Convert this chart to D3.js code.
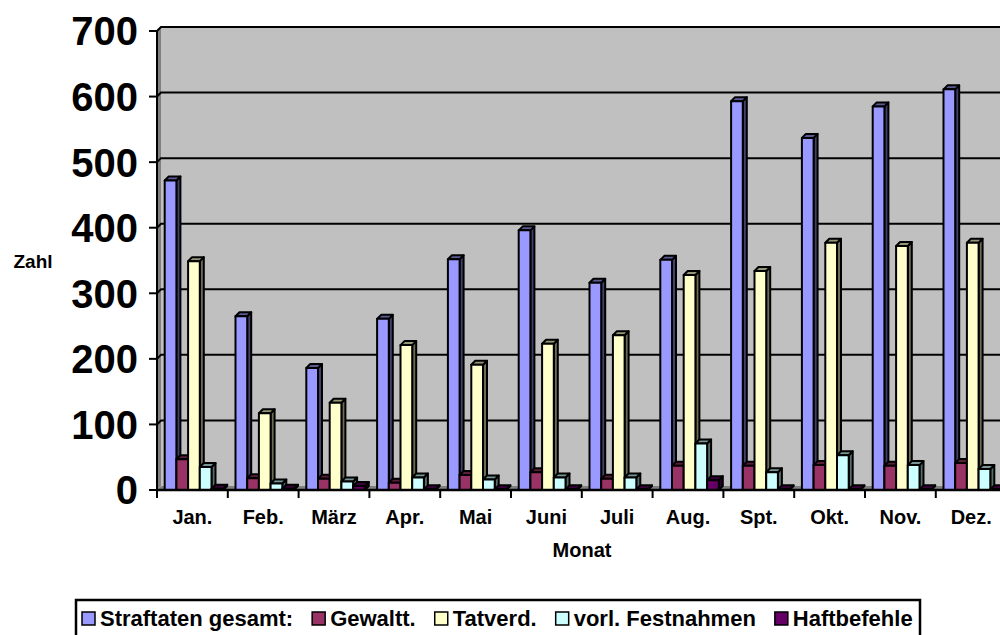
<!DOCTYPE html>
<html>
<head>
<meta charset="utf-8">
<script src="https://cdn.jsdelivr.net/npm/d3@7"></script>
<style>
  body { margin: 0; background: #fff; }
  svg { display: block; font-family: "Liberation Sans", Arial, sans-serif; font-weight: bold; }
</style>
</head>
<body>
<svg id="chart" width="1000" height="635"></svg>
<script>
const months = ["Jan.", "Feb.", "März", "Apr.", "Mai", "Juni", "Juli", "Aug.", "Spt.", "Okt.", "Nov.", "Dez."];
const seriesNames = ["Straftaten gesamt:", "Gewaltt.", "Tatverd.", "vorl. Festnahmen", "Haftbefehle"];
const straftaten = [472, 265, 186, 261, 352, 396, 316, 351, 593, 537, 585, 611];
const gewalt = [47, 18, 17, 11, 23, 27, 17, 37, 37, 38, 37, 41];
const tatverd = [349, 117, 133, 221, 191, 223, 236, 328, 334, 377, 372, 377];
const festnahmen = [35, 10, 13, 19, 16, 19, 19, 71, 27, 53, 38, 32];
const haftbefehle = [2, 2, 6, 1, 1, 1, 1, 15, 1, 1, 1, 1];
const yTicks = [0, 100, 200, 300, 400, 500, 600, 700];
const colours = ["#9999FF", "#993366", "#FFFFCC", "#CCFFFF", "#660066"];

const allSeries = [straftaten, gewalt, tatverd, festnahmen, haftbefehle];

const svg = d3.select("#chart");
const axisX = 157, baseY = 490, topY = 31;
const catW = 70.8;
const dx = 4, dy = 4; // depth offset

const x0 = d3.scaleBand().domain(months).range([axisX, axisX + catW * 12]);
const x1 = d3.scaleBand().domain(d3.range(5)).range([7.7, 7.7 + 58.5]);
const y = d3.scaleLinear().domain([0, 700]).range([baseY, topY]);

// walls
const wallRight = 1004;
svg.append("polygon")
  .attr("points", [[axisX, topY], [axisX + dx, topY - dy], [axisX + dx, baseY - dy], [axisX, baseY]].join(" "))
  .attr("fill", "#808080");
svg.append("rect")
  .attr("x", axisX + dx).attr("y", topY - dy)
  .attr("width", wallRight - axisX - dx).attr("height", baseY - topY)
  .attr("fill", "#C0C0C0");
svg.append("polygon")
  .attr("points", [[axisX, baseY], [axisX + dx, baseY - dy], [wallRight, baseY - dy], [wallRight, baseY]].join(" "))
  .attr("fill", "#808080");

// gridlines
svg.append("g").selectAll("path")
  .data(yTicks.filter(d => d > 0))
  .join("path")
  .attr("d", d => `M${axisX},${y(d)}L${axisX + dx},${y(d) - dy}L${wallRight},${y(d) - dy}`)
  .attr("fill", "none").attr("stroke", "#000").attr("stroke-width", 2);

// bars
const barW = x1.bandwidth();
const bars = svg.append("g");
months.forEach((m, i) => {
  allSeries.forEach((vals, s) => {
    const v = vals[i];
    const left = x0(m) + x1(s);
    const top = y(v);
    const g = bars.append("g").attr("stroke", "#000").attr("stroke-width", 2).attr("stroke-linejoin", "round");
    const c = d3.color(colours[s]);
    // side face
    g.append("polygon")
      .attr("points", [[left + barW, top], [left + barW + dx, top - dy], [left + barW + dx, baseY - dy], [left + barW, baseY]].join(" "))
      .attr("fill", c.darker(2.4));
    // top face
    g.append("polygon")
      .attr("points", [[left, top], [left + dx, top - dy], [left + barW + dx, top - dy], [left + barW, top]].join(" "))
      .attr("fill", c.darker(1.5));
    // front face
    g.append("rect")
      .attr("x", left).attr("y", top)
      .attr("width", barW).attr("height", baseY - top)
      .attr("fill", colours[s]);
  });
});

// y axis
svg.append("line")
  .attr("x1", axisX).attr("x2", axisX).attr("y1", topY).attr("y2", baseY)
  .attr("stroke", "#000").attr("stroke-width", 2);
const yt = svg.append("g").selectAll("g").data(yTicks).join("g");
yt.append("line")
  .attr("x1", axisX - 8).attr("x2", axisX).attr("y1", d => y(d)).attr("y2", d => y(d))
  .attr("stroke", "#000").attr("stroke-width", 2);
yt.append("text")
  .attr("x", 138).attr("y", d => y(d)).attr("dy", "0.36em")
  .attr("text-anchor", "end").attr("font-size", 40)
  .text(d => d);

// x axis
svg.append("line")
  .attr("x1", axisX).attr("x2", 1000).attr("y1", baseY).attr("y2", baseY)
  .attr("stroke", "#000").attr("stroke-width", 2.5);
svg.append("g").selectAll("line")
  .data(d3.range(13))
  .join("line")
  .attr("x1", d => axisX + d * catW).attr("x2", d => axisX + d * catW)
  .attr("y1", baseY).attr("y2", baseY + 8)
  .attr("stroke", "#000").attr("stroke-width", 2);
svg.append("g").selectAll("text")
  .data(months)
  .join("text")
  .attr("x", d => x0(d) + catW / 2).attr("y", 524)
  .attr("text-anchor", "middle").attr("font-size", 20)
  .text(d => d);

// axis titles
svg.append("text").attr("x", 582).attr("y", 557)
  .attr("text-anchor", "middle").attr("font-size", 20).text("Monat");
svg.append("text").attr("x", 33).attr("y", 268)
  .attr("text-anchor", "middle").attr("font-size", 19).text("Zahl");

// legend
const legend = svg.append("g");
legend.append("rect")
  .attr("x", 76).attr("y", 600).attr("width", 844).attr("height", 40)
  .attr("fill", "#fff").attr("stroke", "#000").attr("stroke-width", 2.5);
let lx = 82;
seriesNames.forEach((name, s) => {
  legend.append("rect")
    .attr("x", lx).attr("y", 612).attr("width", 13).attr("height", 13)
    .attr("fill", colours[s]).attr("stroke", "#000").attr("stroke-width", 1.5);
  const t = legend.append("text")
    .attr("x", lx + 18).attr("y", 626).attr("font-size", 22)
    .text(name);
  lx += 18 + t.node().getComputedTextLength() + 19;
});
</script>
</body>
</html>
